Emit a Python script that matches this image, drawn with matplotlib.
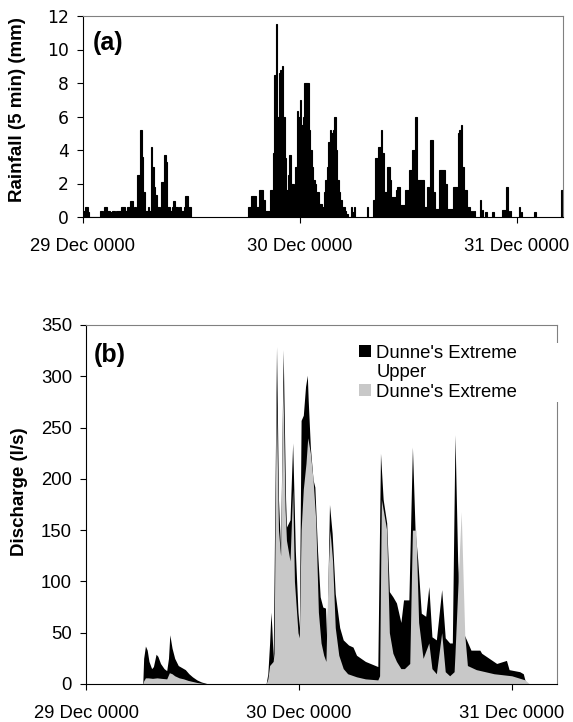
import matplotlib
matplotlib.use("Agg")
import matplotlib.pyplot as plt
from matplotlib.patches import Patch
import numpy as np

plt.rcParams['font.family'] = ['Liberation Sans', 'DejaVu Sans']

# ---- rainfall (a): 10-min steps, hours from 29 Dec 0000 ----
rain_step = 1 / 6
rain1_start = 0.0
rain1 = [0.35, 0.6, 0.6, 0.3, 0, 0, 0, 0, 0, 0, 0, 0.35, 0.35, 0, 0.6, 0.6,
         0.35, 0.35, 0.3, 0.35, 0.35, 0.3, 0.35, 0.35, 0.35, 0.6, 0.6, 0.6, 0.35, 0.6,
         0.6, 0.95, 0.95, 0.35, 0.6, 0.35, 2.5, 2.5, 5.2, 3.6, 1.5, 0.35, 0.35, 0.6,
         0.35, 4.2, 3.0, 1.8, 1.3, 0.6, 0.6, 0.35, 2.1, 2.1, 3.7, 3.3, 0.6, 0.6, 0.35,
         0.6, 0.95, 0.6, 0.6, 0.35, 0.6, 0.35, 0.35, 0.6, 1.25, 1.25, 0.6, 0.6]
rain2_start = 18.3
rain2 = [0.6, 0.6, 1.25, 1.25, 1.25, 0.6, 0.6, 1.6, 1.6, 1.6, 1.0, 0.35, 0.35, 0.35,
         1.6, 1.6, 3.8, 8.5, 11.5, 6.0, 8.6, 8.8, 9.0, 6.0, 3.5, 1.6, 2.5, 3.7, 2.0,
         2.0, 1.5, 3.0, 6.3, 6.0, 7.0, 5.5, 6.0, 8.0, 8.0, 8.0, 5.2, 4.0, 3.0, 2.2,
         2.0, 1.5, 1.5, 0.8, 0.8, 0.6, 1.5, 2.2, 3.0, 4.5, 5.2, 5.0, 5.2, 6.0, 4.0,
         2.2, 1.5, 1.0, 0.6, 0.6, 0.35, 0.2, 0, 0, 0.6, 0.3, 0.6]
rain3_start = 32.1
rain3 = [1.0, 3.5, 3.5, 4.2, 4.2, 5.2, 3.8, 1.5, 1.5, 3.0, 3.0, 2.2, 1.2, 1.2, 1.2,
         1.6, 1.8, 1.8, 0.7, 0.7, 0.7, 1.6, 1.6, 1.6, 2.8, 2.8, 4.0, 4.0, 6.0, 2.2,
         2.2, 2.2, 2.2, 2.2, 0.6, 0.6, 1.8, 1.2, 4.6, 4.6, 1.5, 0.5, 0.5, 0.5, 2.8,
         2.8, 2.8, 2.8, 2.0, 0.5, 0.5, 0.5, 0.5, 1.8, 1.8, 1.8, 5.0, 5.2, 5.5, 3.0,
         1.6, 1.6, 0.6, 0.6, 0.2]
rain_odd_t = [31.4, 42.8, 43.0, 43.2, 43.9, 44.1, 44.5, 45.3, 46.4, 46.6, 46.8,
              47.0, 47.2, 48.2, 48.4, 49.9, 52.9]
rain_odd = [0.6, 0.35, 0.35, 0.35, 1.0, 0.4, 0.3, 0.3, 0.4, 0.4, 1.8, 0.35, 0.35,
            0.6, 0.3, 0.3, 1.6]

# ---- discharge (b) ----
upper_t = [0, 6.4, 6.5, 6.7, 6.9, 7.1, 7.4, 7.6, 7.9, 8.1, 8.4, 8.8, 9.1, 9.3, 9.45,
           9.7, 10.0, 10.4, 10.8, 11.2, 11.6, 12.0, 12.5, 13.0, 13.6, 14.0,
           20.3, 20.5, 20.7, 20.85, 20.95, 21.1, 21.15, 21.48, 21.7, 21.94, 22.23,
           22.5, 22.6, 23.0, 23.3, 23.6, 23.9, 24.05, 24.25, 24.5, 24.75, 24.95,
           25.05, 25.3, 25.6, 25.8, 26.1, 26.4, 26.7, 27.0, 27.15, 27.45, 27.75,
           28.1, 28.6, 29.0, 29.6, 30.1, 30.5, 31.5, 32.9, 33.2, 33.5, 33.9, 34.2,
           34.6, 35.0, 35.5, 35.8, 36.4, 36.8, 37.1, 37.4, 37.8, 38.3, 38.65, 39.0,
           39.5, 40.1, 40.5, 41.0, 41.3, 41.6, 41.9, 42.2, 42.9, 43.4, 44.4, 44.6,
           46.3, 47.4, 47.7, 48.9, 49.3, 49.6, 53.1]
upper_q = [0, 0, 25, 37, 33, 22, 15, 17, 29, 27, 20, 15, 13, 25, 48,
           35, 25, 18, 16, 14, 10, 7, 4, 2, 0.5, 0,
           0, 10, 40, 70, 55, 25, 60, 329, 180, 130, 326,
           180, 153, 160, 235, 130, 70, 55, 257, 262, 290, 301,
           277, 230, 199, 192, 130, 85, 75, 74, 40, 175, 147,
           88, 55, 43, 38, 36, 28, 22, 17, 225, 180, 157, 90,
           85, 79, 60, 82, 82, 231, 150, 121, 69, 66, 95, 46,
           43, 92, 45, 40, 40, 243, 120, 56, 43, 33, 33, 30,
           20, 23, 14, 12, 10, 0, 0]
lower_t = [0, 6.4, 6.5, 6.7, 7.0, 7.5, 8.0, 8.5, 9.1, 9.4, 9.7, 10.0, 10.5, 11.0,
           11.5, 12.0, 12.5, 13.0, 13.6, 14.0,
           20.3, 20.5, 20.7, 20.9, 21.1, 21.2, 21.45, 21.7, 21.94, 22.2, 22.45,
           22.6, 23.0, 23.3, 23.5, 23.9, 24.05, 24.25, 24.5, 24.8, 25.0, 25.3,
           25.6, 25.9, 26.2, 26.5, 26.8, 27.05, 27.3, 27.5, 27.8, 28.1, 28.5, 29.0,
           29.5, 30.5, 31.5, 32.9, 33.1, 33.3, 33.6, 33.9, 34.2, 34.6, 35.0, 35.5,
           35.9, 36.5, 36.8, 37.2, 37.5, 38.0, 38.65, 39.0, 39.5, 40.1, 40.5, 41.0,
           41.5, 41.6, 42.0, 42.3, 42.7, 43.0, 44.0, 46.0, 48.0, 49.5, 50.0, 53.1]
lower_q = [0, 0, 3, 6, 6, 5.5, 6, 5.5, 5, 11, 10, 8, 6, 5,
           3.5, 2.5, 1.5, 0.8, 0.3, 0,
           0, 5, 18, 20, 22, 30, 285, 150, 125, 295, 170,
           140, 120, 190, 100, 50, 45, 150, 190, 215, 240, 225,
           199, 160, 70, 40, 28, 22, 110, 150, 120, 55, 28, 15,
           10, 7, 5, 4, 8, 180, 165, 150, 50, 30, 22, 15,
           15, 20, 150, 150, 60, 25, 40, 15, 10, 50, 12, 8,
           12, 30, 110, 168, 48, 18, 14, 10, 8, 4, 0, 0]

day_ticks = [0, 24, 48]
day_labels = ['29 Dec 0000', '30 Dec 0000', '31 Dec 0000']
xmax = 53.1

fig = plt.figure(figsize=(5.73, 7.22), dpi=100)
W, H = 573, 722


def frame(ax):
    for s in ['top', 'right']:
        ax.spines[s].set_color('#808080')
    for s in ['left', 'bottom']:
        ax.spines[s].set_color('black')
    ax.set_xlim(0, xmax)
    ax.set_xticks(day_ticks)
    ax.set_xticklabels(day_labels)
    ax.tick_params(axis='x', direction='out', length=4, pad=11, labelsize=13.3)
    ax.tick_params(axis='y', direction='out', length=4, pad=6)


# (a) rainfall
ax1 = fig.add_axes([83 / W, 1 - 217 / H, 480 / W, 201 / H])
t1 = rain1_start + rain_step * np.arange(len(rain1))
t2 = rain2_start + rain_step * np.arange(len(rain2))
t3 = rain3_start + rain_step * np.arange(len(rain3))
for t, v in [(t1, rain1), (t2, rain2), (t3, rain3), (rain_odd_t, rain_odd)]:
    ax1.bar(t, v, width=rain_step, align='edge', color='black',
            edgecolor='black', linewidth=0.8)
frame(ax1)
ax1.set_ylim(0, 12)
ax1.set_yticks(range(0, 13, 2))
for lab in ax1.get_yticklabels():
    lab.set_fontfamily('DejaVu Sans')
    lab.set_fontsize(12.3)
fig.text(18 / W, 1 - 110 / H, 'Rainfall (5 min) (mm)', rotation=90, ha='center',
         va='center', fontsize=13.5, fontweight='bold')
fig.text(108 / W, 1 - 43 / H, '(a)', ha='center', va='center', fontsize=18,
         fontweight='bold')

# (b) discharge
ax2 = fig.add_axes([86 / W, 1 - 684 / H, 471 / W, 359 / H])
ax2.fill_between(upper_t, upper_q, color='black', linewidth=0)
ax2.fill_between(lower_t, lower_q, color='#C8C8C8', linewidth=0)
frame(ax2)
ax2.set_ylim(0, 350)
ax2.set_yticks(range(0, 351, 50))
ax2.tick_params(axis='y', labelsize=13.3)
fig.text(20 / W, 1 - 492 / H, 'Discharge (l/s)', rotation=90, ha='center',
         va='center', fontsize=13.5, fontweight='bold')
fig.text(110 / W, 1 - 355 / H, '(b)', ha='center', va='center', fontsize=18,
         fontweight='bold')

handles = [Patch(facecolor='black'), Patch(facecolor='none', edgecolor='none'),
           Patch(facecolor='#C8C8C8')]
labels = ["Dunne's Extreme", 'Upper', "Dunne's Extreme"]
leg = ax2.legend(handles, labels, loc='upper left', mode='expand',
                 bbox_to_anchor=(357 / W, 1 - 403 / H, 205 / W, 60 / H),
                 bbox_transform=fig.transFigure, fontsize=13.3, frameon=True,
                 fancybox=False, edgecolor='none', facecolor='white', framealpha=1,
                 borderpad=0.1, labelspacing=0.13, handlelength=0.65,
                 handleheight=0.6, handletextpad=0.3, borderaxespad=0)

fig.savefig('out.png', dpi=100)
